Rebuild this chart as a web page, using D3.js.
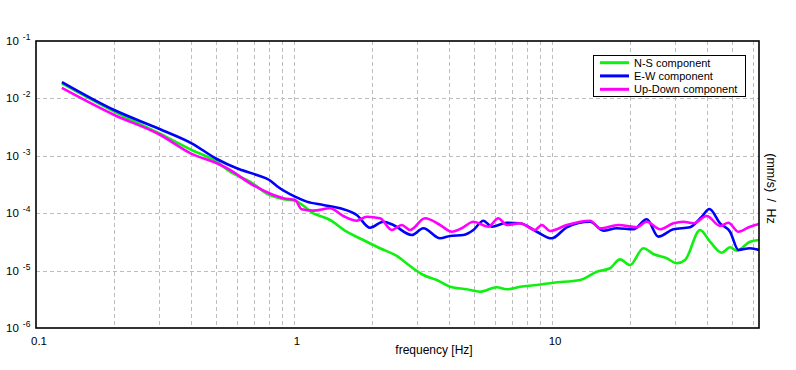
<!DOCTYPE html>
<html><head><meta charset="utf-8">
<script src="https://cdn.jsdelivr.net/npm/d3@7"></script>
<style>html,body{margin:0;padding:0;background:#fff;}svg{display:block;font-family:"Liberation Sans",Arial,sans-serif;}</style>
</head><body><svg id="c" width="796" height="370"></svg>
<script>
const seriesNames = ["N-S component", "E-W component", "Up-Down component"];
const seriesColors = ["#10f010", "#0000ff", "#ff00ff"];
const xTickValues = [0.1, 1, 10];
const xTickLabels = ["0.1", "1", "10"];
const yTickExps = [-1, -2, -3, -4, -5, -6];
const xTitle = "frequency [Hz]";
const yTitle = "(mm/s) / Hz";

const nsFreq = [0.126,0.201,0.301,0.401,0.502,0.565,0.675,0.802,0.909,1.009,1.188,1.379,1.600,1.856,2.154,2.501,2.816,3.171,3.574,4.024,4.671,5.258,6.107,6.674,7.516,8.724,10.12,12.84,14.91,16.78,18.34,20.06,22.59,24.70,27.84,30.43,32.78,37.47,40.96,45.49,48.97,51.98,58.54,63.4];
const nsPsd = [1.83e-2,5.91e-3,2.45e-3,1.26e-3,7.89e-4,5.28e-4,3.54e-4,2.08e-4,1.75e-4,1.65e-4,9.96e-5,7.61e-5,4.76e-5,3.41e-5,2.45e-5,1.80e-5,1.20e-5,8.38e-6,6.86e-6,5.24e-6,4.72e-6,4.29e-6,5.12e-6,4.72e-6,5.24e-6,5.61e-6,6.15e-6,6.86e-6,9.57e-6,1.10e-5,1.57e-5,1.25e-5,2.45e-5,1.95e-5,1.64e-5,1.34e-5,1.53e-5,5.10e-5,3.19e-5,2.05e-5,2.55e-5,2.22e-5,3.19e-5,3.41e-5];

const ewFreq = [0.126,0.201,0.301,0.401,0.502,0.600,0.717,0.802,0.857,1.009,1.120,1.299,1.508,1.750,1.971,2.219,2.426,2.859,3.171,3.681,4.024,4.531,4.955,5.416,5.840,6.674,7.516,8.724,9.97,11.40,14.04,15.81,17.81,20.66,23.29,25.82,29.53,34.26,38.05,40.71,44.79,48.97,52.74,58.54,63.4];
const ewPsd = [1.93e-2,6.28e-3,2.93e-3,1.65e-3,8.80e-4,6.06e-4,4.63e-4,3.79e-4,2.98e-4,1.94e-4,1.59e-4,1.39e-4,1.22e-4,9.30e-5,5.59e-5,7.11e-5,6.23e-5,4.17e-5,5.46e-5,3.65e-5,4.01e-5,4.17e-5,5.10e-5,7.40e-5,5.82e-5,6.83e-5,6.67e-5,4.76e-5,3.65e-5,5.68e-5,7.11e-5,4.96e-5,5.46e-5,5.24e-5,7.83e-5,3.90e-5,5.24e-5,5.68e-5,8.69e-5,1.18e-4,6.67e-5,4.76e-5,2.29e-5,2.45e-5,2.29e-5];

const udFreq = [0.126,0.201,0.301,0.401,0.502,0.565,0.675,0.802,0.909,1.009,1.071,1.188,1.379,1.553,1.750,1.913,2.154,2.391,2.615,2.816,3.219,3.681,4.085,4.467,4.955,5.664,6.192,6.674,7.516,8.594,9.123,9.82,11.40,14.04,15.35,18.07,21.30,23.29,26.22,29.53,32.28,35.29,39.78,44.79,48.23,52.74,58.54,63.4];
const udPsd = [1.52e-2,5.14e-3,2.35e-3,1.08e-3,7.40e-4,5.66e-4,3.32e-4,2.22e-4,1.82e-4,1.70e-4,1.17e-4,1.11e-4,1.22e-4,8.94e-5,7.40e-5,8.69e-5,8.15e-5,5.10e-5,6.23e-5,5.10e-5,8.15e-5,6.23e-5,4.76e-5,5.46e-5,7.11e-5,5.82e-5,8.15e-5,6.23e-5,6.67e-5,5.10e-5,6.23e-5,4.90e-5,6.23e-5,7.40e-5,5.46e-5,6.23e-5,5.68e-5,7.11e-5,5.24e-5,6.67e-5,7.11e-5,6.67e-5,8.94e-5,5.98e-5,6.83e-5,4.76e-5,5.82e-5,6.48e-5];

const series = [
  {name: seriesNames[0], color: seriesColors[0], data: nsFreq.map((f,i)=>({f, v: nsPsd[i]}))},
  {name: seriesNames[1], color: seriesColors[1], data: ewFreq.map((f,i)=>({f, v: ewPsd[i]}))},
  {name: seriesNames[2], color: seriesColors[2], data: udFreq.map((f,i)=>({f, v: udPsd[i]}))}
];

const L = 36, R = 759, T = 41, B = 328;
const svg = d3.select("#c");
svg.append("rect").attr("width",796).attr("height",370).attr("fill","#fff");

const x = d3.scaleLog().domain([0.1, 63.4]).range([L, R]);
const y = d3.scaleLog().domain([1e-6, 1e-1]).range([B, T]);

svg.append("defs").append("clipPath").attr("id","clip")
  .append("rect").attr("x",L).attr("y",T).attr("width",R-L).attr("height",B-T);

// grid
const g = svg.append("g").attr("stroke","#bdbdbd").attr("stroke-dasharray","4,3").attr("stroke-width",1);
x.ticks().filter(t => x(t) > L + 1 && x(t) < R - 1).forEach(t => {
  g.append("line").attr("x1", Math.round(x(t))+0.5).attr("x2", Math.round(x(t))+0.5).attr("y1", T).attr("y2", B);
});
yTickExps.map(e => Math.pow(10, e)).filter(v => y(v) > T + 1 && y(v) < B - 1).forEach(v => {
  g.append("line").attr("x1", L).attr("x2", R).attr("y1", Math.round(y(v))+0.5).attr("y2", Math.round(y(v))+0.5);
});

// curves
const line = d3.line().x(d => x(d.f)).y(d => y(d.v)).curve(d3.curveMonotoneX);
const cg = svg.append("g").attr("clip-path","url(#clip)");
series.forEach(s => {
  cg.append("path").datum(s.data).attr("d", line).attr("fill","none")
    .attr("stroke", s.color).attr("stroke-width", 2.6).attr("stroke-linejoin","round");
});

// frame
svg.append("rect").attr("x",L).attr("y",T).attr("width",R-L).attr("height",B-T)
  .attr("fill","none").attr("stroke","#000").attr("stroke-width",1.6);

// x tick labels
xTickValues.forEach((t,i) => {
  svg.append("text").attr("x", x(t)+3).attr("y", 345).attr("text-anchor","middle")
    .attr("font-size", 11.5).attr("fill","#000").text(xTickLabels[i]);
});
// y tick labels
yTickExps.forEach(e => {
  const yy = y(Math.pow(10, e));
  const t = svg.append("text").attr("x", 6).attr("y", yy + 4).attr("font-size", 11.5).attr("fill","#000");
  t.append("tspan").text("10");
  t.append("tspan").attr("dx", 4).attr("dy", -5).attr("font-size", 8.5).text(String(e));
});

// axis titles
svg.append("text").attr("x", 434).attr("y", 354).attr("text-anchor","middle")
  .attr("font-size", 12).attr("fill","#000").text(xTitle);
svg.append("text").attr("transform", `translate(767,${(T+B)/2+4}) rotate(90)`)
  .attr("text-anchor","middle").attr("font-size", 12.5).attr("fill","#000")
  .attr("word-spacing", 3).text(yTitle);

// legend
const lg = svg.append("g");
lg.append("rect").attr("x", 593.5).attr("y", 55.5).attr("width", 152).attr("height", 41)
  .attr("fill","#fff").attr("stroke","#000").attr("stroke-width",1);
const rowY = [62.7, 75.9, 89.3];
series.forEach((s,i) => {
  lg.append("line").attr("x1", 600).attr("x2", 629).attr("y1", rowY[i]).attr("y2", rowY[i])
    .attr("stroke", s.color).attr("stroke-width", 3);
  lg.append("text").attr("x", 634).attr("y", rowY[i] + 4).attr("font-size", 11)
    .attr("fill","#000").text(s.name);
});
</script></body></html>
